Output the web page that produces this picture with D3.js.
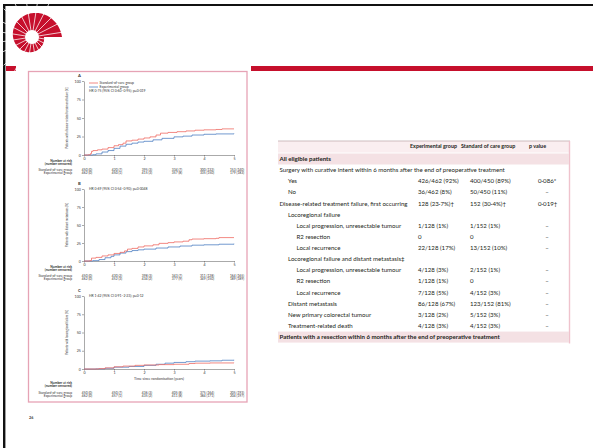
<!DOCTYPE html>
<html>
<head>
<meta charset="utf-8">
<script src="https://cdn.jsdelivr.net/npm/d3@7"></script>
<style>
  html, body { margin: 0; padding: 0; background: #fff; }
  svg { display: block; font-family: Lato, "Noto Sans", sans-serif; }
</style>
</head>
<body>
<svg id="slide" width="593" height="448"></svg>
<script>
// ---------- survival panels ----------
const years = [0, 1, 2, 3, 4, 5];
const yTicks = [0, 25, 50, 75, 100];
const groupNames = ["Standard-of-care group", "Experimental group"];
const panelLetters = ["A", "B", "C"];
const panelTitles = [
  "Patients with disease-related treatment failure (%)",
  "Patients with distant metastases (%)",
  "Patients with locoregional failure (%)"
];
const hazardTexts = [
  "HR 0·75 (95% CI 0·60–0·95); p=0·019",
  "HR 0·69 (95% CI 0·54–0·90); p=0·0048",
  "HR 1·42 (95% CI 0·91–2·23); p=0·12"
];
const xTitle = "Time since randomisation (years)";
const riskTitle = ["Number at risk", "(number censored)"];

// cumulative incidence, [years, %]
const failureSoc = [[0,0],[0.15,0.4],[0.22,2],[0.25,5],[0.3,6],[0.45,7],[0.6,8],[0.8,10],[1.0,12.5],[1.15,14],[1.3,16],[1.4,19],[1.6,20],[1.8,21.5],[2.0,23],[2.2,24.5],[2.4,27],[2.55,29.5],[2.8,30.5],[3.1,31.5],[3.4,32.5],[3.7,33.5],[4.0,34],[4.4,34.5],[4.6,35.3],[5,35.3]];
const failureExp = [[0,0],[0.3,0.4],[0.4,1.5],[0.6,4],[0.8,6],[1.0,9],[1.2,12],[1.4,14.5],[1.6,16],[1.8,17.5],[2.0,18.5],[2.3,20.5],[2.6,22.5],[3.0,24.5],[3.3,25.5],[3.6,27],[4.0,28],[4.4,28.5],[5,29]];
const metastasisSoc = [[0,0],[0.2,0.5],[0.25,4],[0.4,5],[0.6,7],[0.8,8.5],[1.0,10.5],[1.2,12],[1.35,14],[1.45,16.5],[1.6,17.5],[1.8,19.5],[2.0,21],[2.3,22.5],[2.5,24.5],[2.8,25.5],[3.0,26.5],[3.3,27.5],[3.5,29.5],[3.6,30.5],[4.0,31],[4.4,31.5],[4.5,32.5],[5,32.5]];
const metastasisExp = [[0,0],[0.3,0.5],[0.5,2],[0.7,4.5],[0.9,6.5],[1.0,8.5],[1.2,11],[1.4,13],[1.6,14.5],[1.8,15.5],[2.0,16.5],[2.4,18],[2.8,19.5],[3.2,20.8],[3.6,22],[4.0,22.5],[4.5,23.3],[5,24]];
const locoregionalSoc = [[0,0],[0.5,0.5],[0.7,1.5],[1.0,3],[1.3,4],[1.7,5],[2.0,5.5],[2.5,6],[3.0,6.5],[3.5,7.5],[3.7,8],[4.2,8.3],[5,8.5]];
const locoregionalExp = [[0,0],[0.4,0.2],[0.7,1],[1.0,2.5],[1.5,3.5],[2.0,5],[2.4,6.5],[2.7,8],[3.0,9],[3.4,10],[3.7,10.8],[4.2,11.2],[4.6,12],[5,12.5]];

// numbers at risk (number censored)
const riskFailureSoc = ["450 (0)", "420 (7)", "395 (3)", "334 (7)", "300 (132)", "153 (140)"];
const riskFailureExp = ["462 (0)", "450 (1)", "415 (3)", "357 (8)", "335 (150)", "179 (183)"];
const riskMetastasisSoc = ["450 (0)", "430 (2)", "398 (3)", "343 (7)", "311 (128)", "164 (165)"];
const riskMetastasisExp = ["462 (0)", "452 (3)", "434 (2)", "377 (9)", "349 (150)", "189 (189)"];
const riskLocoregionalSoc = ["450 (0)", "450 (7)", "436 (3)", "405 (8)", "375 (164)", "205 (193)"];
const riskLocoregionalExp = ["462 (0)", "457 (1)", "435 (2)", "411 (8)", "384 (171)", "204 (197)"];

// ---------- table ----------
const tableHeaders = ["Experimental group", "Standard of care group", "p value"];
const rowLabels = [
  "All eligible patients",
  "Surgery with curative intent within 6 months after the end of preoperative treatment",
  "Yes", "No",
  "Disease-related treatment failure, first occurring",
  "Locoregional failure",
  "Local progression, unresectable tumour", "R2 resection", "Local recurrence",
  "Locoregional failure and distant metastasis‡",
  "Local progression, unresectable tumour", "R2 resection", "Local recurrence",
  "Distant metastasis", "New primary colorectal tumour", "Treatment-related death",
  "Patients with a resection within 6 months after the end of preoperative treatment"
];
const rowIndent = [0, 0, 1, 1, 0, 1, 2, 2, 2, 1, 2, 2, 2, 1, 1, 1, 0];
const rowSection = [true, false, false, false, false, false, false, false, false, false, false, false, false, false, false, false, true];
const rowExp = ["", "", "426/462 (92%)", "36/462 (8%)", "128 (23·7%)†", "", "1/128 (1%)", "0", "22/128 (17%)", "", "4/128 (3%)", "1/128 (1%)", "7/128 (5%)", "86/128 (67%)", "3/128 (2%)", "4/128 (3%)", ""];
const rowSoc = ["", "", "400/450 (89%)", "50/450 (11%)", "152 (30·4%)†", "", "1/152 (1%)", "0", "13/152 (10%)", "", "2/152 (1%)", "0", "4/152 (3%)", "123/152 (81%)", "5/152 (3%)", "4/152 (3%)", ""];
const rowP = ["", "", "0·086*", "–", "0·019†", "", "–", "–", "–", "", "–", "–", "–", "–", "–", "–", ""];

const svg = d3.select("#slide");
const RED = "#c60f2c";

// ---------- slide chrome ----------
svg.append("rect").attr("x", 0).attr("y", 0).attr("width", 593).attr("height", 448).attr("fill", "#fff");
svg.append("rect").attr("x", 3).attr("y", 4).attr("width", 590).attr("height", 2).attr("fill", "#111");
svg.append("rect").attr("x", 3).attr("y", 4).attr("width", 2.4).attr("height", 444).attr("fill", "#111");
svg.append("rect").attr("x", 6).attr("y", 66).attr("width", 10).attr("height", 5).attr("fill", RED);
svg.append("rect").attr("x", 251).attr("y", 66).attr("width", 342).attr("height", 5).attr("fill", RED);

// spiral shell emblem
(function drawEmblem() {
  const cx = 32, cy = 37;
  const g = svg.append("g").attr("transform", `translate(${cx},${cy})`);
  const rad = t => 12 * Math.pow(2.5, t / (2 * Math.PI));
  const p = d3.path();
  const n = 120;
  for (let i = 0; i <= n; i++) {
    const t = (i / n) * 2 * Math.PI;
    const r = rad(t);
    if (i === 0) p.moveTo(r * Math.cos(t), r * Math.sin(t));
    else p.lineTo(r * Math.cos(t), r * Math.sin(t));
  }
  p.lineTo(0, 0);
  p.closePath();
  g.append("path").attr("d", p.toString()).attr("fill", RED);
  const spokes = d3.range(20);
  g.selectAll("line.spoke").data(spokes).join("line")
    .attr("class", "spoke")
    .attr("x1", 0).attr("y1", 0)
    .attr("x2", d => 40 * Math.cos((d + 0.5) / 20 * 2 * Math.PI))
    .attr("y2", d => 40 * Math.sin((d + 0.5) / 20 * 2 * Math.PI))
    .attr("stroke", "#fff").attr("stroke-width", 0.75);
  g.append("circle").attr("r", 7).attr("fill", "#fff");
})();

// ---------- journal page with three panels ----------
svg.append("rect").attr("x", 28.5).attr("y", 71.5).attr("width", 218.5).attr("height", 330.5)
  .attr("fill", "none").attr("stroke", "#e6a3b5").attr("stroke-width", 1.3);
svg.append("text").attr("x", 29).attr("y", 419).attr("font-size", 3.8).attr("font-weight", 700)
  .attr("fill", "#444").text("26");

const panels = [
  { top: 81, bottom: 155, soc: failureSoc, exp: failureExp, rSoc: riskFailureSoc, rExp: riskFailureExp, legend: true, xLabel: false },
  { top: 189, bottom: 261, soc: metastasisSoc, exp: metastasisExp, rSoc: riskMetastasisSoc, rExp: riskMetastasisExp, legend: false, xLabel: false },
  { top: 296, bottom: 369, soc: locoregionalSoc, exp: locoregionalExp, rSoc: riskLocoregionalSoc, rExp: riskLocoregionalExp, legend: false, xLabel: true }
];
const SOC_COLOR = "#ef6b63";
const EXP_COLOR = "#4f80c3";
const INK = "#333";

panels.forEach((pn, i) => {
  const x = d3.scaleLinear().domain([0, 5]).range([84, 234]);
  const y = d3.scaleLinear().domain([0, 100]).range([pn.bottom, pn.top]);
  const g = svg.append("g");

  g.append("text").attr("x", 78).attr("y", pn.top - 4.5).attr("font-size", 4.2).attr("font-weight", 700)
    .attr("fill", INK).text(panelLetters[i]);

  const yAxis = g.append("g").attr("transform", "translate(84,0)")
    .call(d3.axisLeft(y).tickValues(yTicks).tickSize(2).tickSizeOuter(0).tickPadding(1.2));
  const xAxis = g.append("g").attr("transform", `translate(0,${pn.bottom})`)
    .call(d3.axisBottom(x).tickValues(years).tickFormat(d3.format("d")).tickSize(1.6).tickSizeOuter(0).tickPadding(0.8));
  [yAxis, xAxis].forEach(a => {
    a.select(".domain").attr("stroke", "#555").attr("stroke-width", 0.5);
    a.selectAll(".tick line").attr("stroke", "#555").attr("stroke-width", 0.5);
    a.selectAll(".tick text").attr("font-size", 3.6).attr("fill", INK).attr("font-family", "Lato, sans-serif");
  });

  g.append("text")
    .attr("transform", `translate(68,${(pn.top + pn.bottom) / 2}) rotate(-90)`)
    .attr("text-anchor", "middle").attr("font-size", 2.8).attr("fill", INK)
    .text(panelTitles[i]);

  const line = d3.line().x(d => x(d[0])).y(d => y(d[1])).curve(d3.curveStepAfter);
  g.append("path").datum(pn.exp).attr("d", line).attr("fill", "none")
    .attr("stroke", EXP_COLOR).attr("stroke-width", 0.8);
  g.append("path").datum(pn.soc).attr("d", line).attr("fill", "none")
    .attr("stroke", SOC_COLOR).attr("stroke-width", 0.8);

  let hrY = pn.top + 1.2;
  if (pn.legend) {
    [SOC_COLOR, EXP_COLOR].forEach((c, k) => {
      const ly = pn.top + 2 + k * 4;
      g.append("line").attr("x1", 89).attr("x2", 98).attr("y1", ly).attr("y2", ly)
        .attr("stroke", c).attr("stroke-width", 0.8);
      g.append("text").attr("x", 99.5).attr("y", ly + 1.2).attr("font-size", 3.4).attr("fill", INK)
        .text(groupNames[k]);
    });
    hrY = pn.top + 11.2;
  }
  g.append("text").attr("x", 89).attr("y", hrY).attr("font-size", 3.4).attr("fill", INK)
    .text(hazardTexts[i]);

  let ry = pn.bottom + 6.5;
  if (pn.xLabel) {
    g.append("text").attr("x", 159).attr("y", pn.bottom + 11).attr("text-anchor", "middle")
      .attr("font-size", 3.5).attr("fill", INK).text(xTitle);
    ry = pn.bottom + 15;
  }
  riskTitle.forEach((t, k) => {
    g.append("text").attr("x", 72).attr("y", ry + k * 3).attr("text-anchor", "end")
      .attr("font-size", 3.3).attr("font-weight", 700).attr("fill", INK).text(t);
  });
  [pn.rSoc, pn.rExp].forEach((vals, k) => {
    const rowY = ry + 9.5 + k * 3.2;
    g.append("text").attr("x", 72).attr("y", rowY).attr("text-anchor", "end")
      .attr("font-size", 3.3).attr("fill", INK).text(groupNames[k]);
    g.selectAll(null).data(vals).join("text")
      .attr("x", (d, j) => x(years[j]) + 3)
      .attr("y", rowY).attr("text-anchor", "middle")
      .attr("font-size", 3.3).attr("fill", INK).text(d => d);
  });
});

// ---------- outcome table ----------
const T = { left: 278, right: 569, colExp: 418, colSoc: 470, colP: 538, first: 159, step: 11.13, fs: 6.1 };
const tg = svg.append("g").attr("fill", "#231f20");
tg.append("rect").attr("x", T.left).attr("y", 141).attr("width", T.right - T.left).attr("height", 11.5).attr("fill", "#faeef0");
tg.append("line").attr("x1", T.left).attr("x2", T.right + 1).attr("y1", 141).attr("y2", 141)
  .attr("stroke", "#b9a3a8").attr("stroke-width", 0.7);
tg.append("line").attr("x1", T.right + 0.5).attr("x2", T.right + 0.5).attr("y1", 141).attr("y2", 343.5)
  .attr("stroke", "#efc3cd").attr("stroke-width", 1.4);

[410, 461, 529].forEach((cx, k) => {
  tg.append("text").attr("x", cx).attr("y", 147.8).attr("font-size", 5.4).attr("font-weight", 700)
    .text(tableHeaders[k]);
});

rowLabels.forEach((lab, i) => {
  const cy = T.first + i * T.step;
  if (rowSection[i]) {
    tg.append("rect").attr("x", T.left).attr("y", cy - 5.5).attr("width", T.right - T.left)
      .attr("height", 11).attr("fill", "#f4e1e4");
  }
  tg.append("text").attr("x", T.left + 1.5 + rowIndent[i] * 8.5).attr("y", cy + 2)
    .attr("font-size", T.fs).attr("font-weight", rowSection[i] ? 700 : 400).text(lab);
  if (rowExp[i]) tg.append("text").attr("x", T.colExp).attr("y", cy + 2).attr("font-size", T.fs).text(rowExp[i]);
  if (rowSoc[i]) tg.append("text").attr("x", T.colSoc).attr("y", cy + 2).attr("font-size", T.fs).text(rowSoc[i]);
  if (rowP[i]) {
    const dash = rowP[i] === "–";
    tg.append("text").attr("x", dash ? T.colP + 9 : T.colP).attr("y", cy + 2)
      .attr("text-anchor", dash ? "middle" : "start").attr("font-size", T.fs).text(rowP[i]);
  }
});
</script>
</body>
</html>
